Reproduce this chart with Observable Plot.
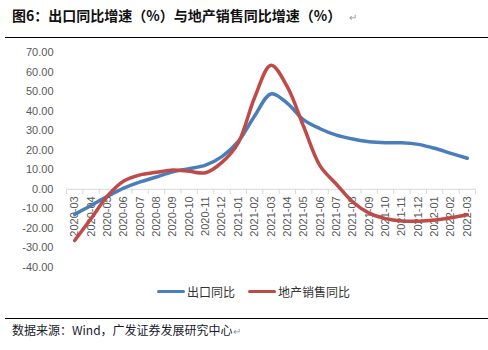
<!DOCTYPE html>
<html>
<head>
<meta charset="utf-8">
<script src="https://cdn.jsdelivr.net/npm/d3@7"></script>
<script src="https://cdn.jsdelivr.net/npm/@observablehq/plot@0.6"></script>
<style>
  body { margin: 0; width: 488px; height: 350px; position: relative; background: #fff; overflow: hidden; font-family: "Noto Sans CJK SC", "Liberation Sans", sans-serif; }
  #title { position: absolute; left: 12px; top: 5px; font-size: 14px; font-weight: bold; color: #111; white-space: nowrap; }
  #title .ret, #source .ret { color: #999; font-weight: normal; font-size: 10px; margin-left: 8px; }
  #source .ret { margin-left: 0; }
  .hline { position: absolute; left: 5px; width: 483px; height: 0; border-top: 1.5px solid #000; }
  #chart { position: absolute; left: 0; top: 38px; }
  #legend { position: absolute; top: 283px; left: 0; width: 488px; height: 18px; }
  .lg { position: absolute; top: 0; display: flex; align-items: center; font-size: 12px; color: #333; white-space: nowrap; }
  .sw { display: inline-block; width: 28px; height: 0; border-top: 3.5px solid; margin-right: 2px; border-radius: 2px; }
  #source { position: absolute; left: 12px; top: 321px; font-size: 12px; color: #1a1a2e; white-space: nowrap; }
</style>
</head>
<body>
<div id="title">图6：出口同比增速（%）与地产销售同比增速（%）<span class="ret">↵</span></div>
<div class="hline" style="top:37px"></div>
<div id="chart"></div>
<div id="legend"></div>
<div class="hline" style="top:318px"></div>
<div id="source">数据来源：Wind，广发证券发展研究中心<span class="ret">↵</span></div>
<script>
const months = ["2020-03","2020-04","2020-05","2020-06","2020-07","2020-08","2020-09","2020-10","2020-11","2020-12",
  "2021-01","2021-02","2021-03","2021-04","2021-05","2021-06","2021-07","2021-08","2021-09","2021-10","2021-11","2021-12",
  "2022-01","2022-02","2022-03"];
const exportYoY = [-12.8, -8.3, -3.6, 0.6, 3.8, 6.3, 9.0, 10.6, 12.4, 16.7,
  24.5, 37.5, 48.8, 44.0, 35.5, 31.0, 27.7, 25.7, 24.3, 23.8, 23.8, 23.0,
  21.0, 18.4, 15.9];
const salesYoY = [-26.2, -15.0, -3.5, 4.2, 7.4, 8.7, 9.9, 9.2, 8.5, 13.8,
  23.8, 47.0, 63.5, 52.4, 32.0, 12.0, 2.6, -6.5, -12.2, -15.0, -16.2, -16.3,
  -15.7, -14.5, -13.0];
const yTicks = [-40, -30, -20, -10, 0, 10, 20, 30, 40, 50, 60, 70];
const seriesNames = ["出口同比", "地产销售同比"];
const seriesColors = ["#4a7ebb", "#be4b48"];

const rows = [];
months.forEach((m, i) => {
  rows.push({i, month: m, value: exportYoY[i], series: seriesNames[0]});
  rows.push({i, month: m, value: salesYoY[i], series: seriesNames[1]});
});
const cats = months.map((m, i) => ({i, month: m}));
const bounds = d3.range(months.length + 1).map(k => k - 0.5);

const chart = Plot.plot({
  width: 488,
  height: 240,
  marginTop: 14,
  marginBottom: 11,
  marginLeft: 66,
  marginRight: 13,
  style: {fontFamily: "'Liberation Sans', Arial, sans-serif", fontSize: "11px", color: "#595959", background: "transparent"},
  x: {domain: [-0.5, months.length - 0.5], axis: null},
  y: {domain: [-40, 70], ticks: yTicks, tickFormat: d => d.toFixed(2), tickSize: 0, tickPadding: 13, label: null},
  color: {domain: seriesNames, range: seriesColors},
  marks: [
    Plot.ruleY([0], {x1: -0.5, x2: months.length - 0.5, stroke: "#d9d9d9", strokeWidth: 1}),
    Plot.ruleX(bounds, {x: d => d, y1: 0, y2: -2.6, stroke: "#d9d9d9", strokeWidth: 1}),
    Plot.text(cats, {x: "i", y: () => 0, text: "month", rotate: -90, textAnchor: "end", lineAnchor: "middle", dy: 7, fill: "#595959", fontSize: 11}),
    Plot.line(rows, {x: "i", y: "value", z: "series", stroke: "series", strokeWidth: 3.5, curve: "catmull-rom"})
  ]
});
document.getElementById("chart").appendChild(chart);

const legend = document.getElementById("legend");
const lefts = [157, 248];
seriesNames.forEach((name, k) => {
  const item = document.createElement("div");
  item.className = "lg";
  item.style.left = lefts[k] + "px";
  const sw = document.createElement("span");
  sw.className = "sw";
  sw.style.borderTopColor = seriesColors[k];
  item.appendChild(sw);
  const t = document.createElement("span");
  t.textContent = name;
  item.appendChild(t);
  legend.appendChild(item);
});
</script>
</body>
</html>
